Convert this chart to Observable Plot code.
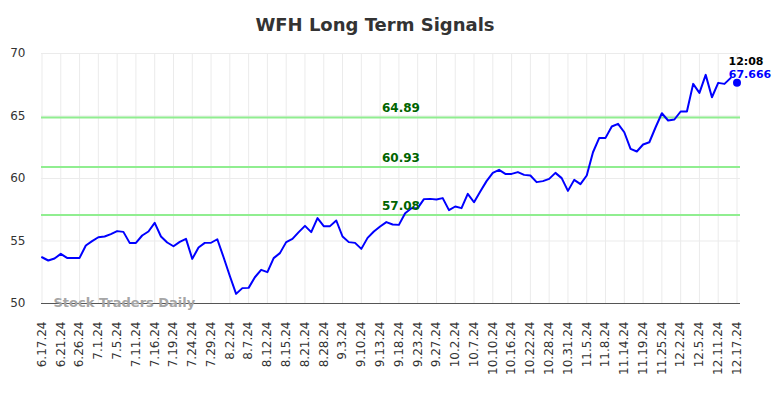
<!DOCTYPE html>
<html><head><meta charset="utf-8">
<script src="https://cdn.jsdelivr.net/npm/d3@7"></script>
<script src="https://cdn.jsdelivr.net/npm/@observablehq/plot@0.6"></script>
<style>
body{margin:0;background:#fff;font-family:"DejaVu Sans",sans-serif;}
#title{height:40px;box-sizing:border-box;padding-top:16px;padding-right:34px;line-height:18px;font-size:18px;font-weight:bold;color:#333;text-align:center;}
</style></head><body>
<div id="title">WFH Long Term Signals</div>
<div id="chart"></div>
<script>
const dateLabels = ["6.17.24","6.21.24","6.26.24","7.1.24","7.5.24","7.11.24","7.16.24","7.19.24","7.24.24","7.29.24","8.2.24","8.7.24","8.12.24","8.15.24","8.21.24","8.28.24","9.3.24","9.10.24","9.13.24","9.18.24","9.23.24","9.27.24","10.2.24","10.7.24","10.10.24","10.16.24","10.22.24","10.28.24","10.31.24","11.5.24","11.8.24","11.14.24","11.19.24","11.25.24","12.2.24","12.5.24","12.11.24","12.17.24"];
const values = [53.70,53.44,53.60,53.97,53.65,53.65,53.65,54.64,54.99,55.30,
55.36,55.55,55.79,55.73,54.85,54.85,55.44,55.76,56.45,55.36,
54.88,54.58,54.93,55.17,53.57,54.48,54.85,54.86,55.14,53.70,
52.20,50.77,51.23,51.25,52.10,52.69,52.51,53.63,54.03,54.91,
55.17,55.71,56.21,55.71,56.83,56.19,56.19,56.64,55.36,54.91,
54.85,54.37,55.25,55.76,56.16,56.51,56.32,56.29,57.22,57.62,
57.63,58.35,58.37,58.32,58.43,57.47,57.76,57.63,58.77,58.10,
58.96,59.79,60.45,60.69,60.37,60.37,60.51,60.29,60.24,59.71,
59.79,59.97,60.45,60.03,59.01,59.89,59.55,60.24,62.10,63.25,
63.25,64.16,64.37,63.70,62.37,62.16,62.72,62.90,64.10,65.22,
64.64,64.72,65.36,65.36,67.57,66.85,68.29,66.50,67.65,67.57,
68.05];
const lastValue = 67.666;
const lastTime = "12:08";
const levels = [64.89, 60.93, 57.08];
const yTicks = [50, 55, 60, 65, 70];
const watermark = "Stock Traders Daily";

const data = values.map((v, i) => ({i, v}));
const lastIndex = values.length;
const step = lastIndex / (dateLabels.length - 1);
const tickIdx = dateLabels.map((d, k) => k * step);

const chart = Plot.plot({
  width: 784, height: 358,
  marginTop: 13, marginBottom: 95, marginLeft: 41, marginRight: 44,
  x: {domain: [0, lastIndex], insetLeft: 0.5, insetRight: 3.5, axis: null},
  y: {domain: [50, 70], axis: null},
  style: {fontFamily: "DejaVu Sans", fontSize: "12px", color: "#333", background: "white"},
  marks: [
    Plot.ruleX(tickIdx, {stroke: "#ebebeb", strokeWidth: 1}),
    Plot.ruleY(yTicks, {stroke: "#ebebeb", strokeWidth: 1}),
    Plot.ruleY(levels, {stroke: "#90ee90", strokeWidth: 2}),
    Plot.axisY({ticks: yTicks, label: null, tickSize: 0, tickPadding: 16, fontSize: 12, fill: "#333"}),
    Plot.axisX({ticks: tickIdx, label: null, tickFormat: (t) => dateLabels[Math.round(t / step)], tickRotate: -90, tickSize: 0, tickPadding: 18, fontSize: 12, fill: "#333"}),
    Plot.ruleY([50], {stroke: "#555", strokeWidth: 1}),
    Plot.text([watermark], {frameAnchor: "bottom-left", lineAnchor: "middle", textAnchor: "start", dx: 12, dy: -1, fill: "#a6a6a6", fontWeight: "bold", fontSize: 13}),
    Plot.line(data, {x: "i", y: "v", stroke: "#0000ff", strokeWidth: 2}),
    Plot.dot([lastValue], {x: () => lastIndex, y: (d) => d, r: 4, fill: "#0000ff"}),
    Plot.text(levels, {y: (d) => d, text: (d) => d.toFixed(2), dx: 10, dy: -9, fill: "#006400", fontWeight: "bold", fontSize: 12}),
    Plot.text([lastTime], {x: () => lastIndex, y: () => lastValue, text: (d) => d, dx: 9, dy: -21, fill: "#000", fontWeight: "bold", fontSize: 11}),
    Plot.text([lastValue], {x: () => lastIndex, y: (d) => d, text: (d) => d.toFixed(3), dx: 13, dy: -8, fill: "#0000ff", fontWeight: "bold", fontSize: 11})
  ]
});
document.getElementById("chart").appendChild(chart);
</script>
</body></html>
